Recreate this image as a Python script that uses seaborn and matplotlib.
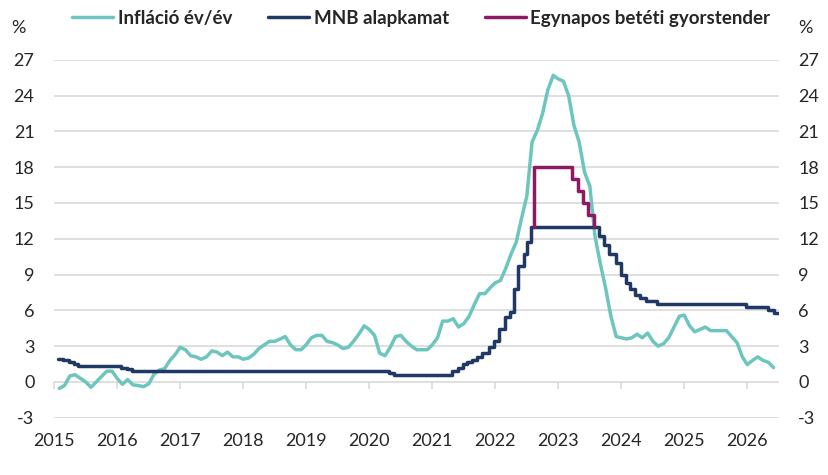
"""Hungarian inflation vs. MNB policy rates, 2015-2026."""

import matplotlib

matplotlib.use("Agg")

import matplotlib.dates as mdates
import matplotlib.pyplot as plt
import pandas as pd
import seaborn as sns

# Inflation, year on year (%), monthly from Mar 2015 to Jul 2026
inflation = [
    -0.55, -0.3, 0.5, 0.6, 0.3, 0.0, -0.45, 0.0, 0.45, 0.9,           # 2015
    0.9, 0.3, -0.2, 0.2, -0.25, -0.3, -0.4, -0.15, 0.65, 1.0, 1.1, 1.8,  # 2016
    2.3, 2.9, 2.7, 2.2, 2.1, 1.9, 2.1, 2.6, 2.5, 2.2, 2.5, 2.1,       # 2017
    2.1, 1.9, 2.0, 2.3, 2.8, 3.1, 3.4, 3.4, 3.6, 3.8, 3.1, 2.7,       # 2018
    2.7, 3.1, 3.7, 3.9, 3.9, 3.4, 3.3, 3.1, 2.8, 2.9, 3.4, 4.0,       # 2019
    4.7, 4.4, 3.9, 2.4, 2.2, 2.9, 3.8, 3.9, 3.4, 3.0, 2.7, 2.7,       # 2020
    2.7, 3.1, 3.7, 5.1, 5.1, 5.3, 4.6, 4.9, 5.5, 6.5, 7.4, 7.4,       # 2021
    7.9, 8.3, 8.5, 9.5, 10.7, 11.7, 13.7, 15.6, 20.1, 21.1, 22.5, 24.5,  # 2022
    25.7, 25.4, 25.2, 24.0, 21.5, 20.1, 17.6, 16.4, 12.2, 9.9, 7.9, 5.5,  # 2023
    3.8, 3.7, 3.6, 3.7, 4.0, 3.7, 4.1, 3.4, 3.0, 3.2, 3.7, 4.6,       # 2024
    5.5, 5.6, 4.7, 4.2, 4.4, 4.6, 4.3, 4.3, 4.3, 4.3, 3.8, 3.3,       # 2025
    2.1, 1.45, 1.8, 2.1, 1.8, 1.65, 1.2,                              # 2026
]
inflation_months = pd.period_range("2015-03", "2026-07", freq="M")

# MNB base rate (%), decision dates
rate_dates = [
    "2015-03-24", "2015-04-21", "2015-05-26", "2015-06-23", "2015-07-21",
    "2016-03-22", "2016-04-26", "2016-05-24",
    "2020-06-23", "2020-07-21",
    "2021-06-22", "2021-07-27", "2021-08-24", "2021-09-21", "2021-10-19",
    "2021-11-16", "2021-12-14",
    "2022-01-25", "2022-02-22", "2022-03-22", "2022-04-26", "2022-05-24",
    "2022-06-21", "2022-07-12", "2022-08-16", "2022-08-30", "2022-09-27",
    "2023-10-24", "2023-11-21", "2023-12-19",
    "2024-01-30", "2024-02-27", "2024-03-26", "2024-04-23", "2024-05-21",
    "2024-06-18", "2024-07-23", "2024-09-24",
    "2026-02-24", "2026-06-30", "2026-08-05",
]
base_rate = [
    1.95, 1.80, 1.65, 1.50, 1.35,
    1.20, 1.05, 0.90,
    0.75, 0.60,
    0.90, 1.20, 1.50, 1.65, 1.80,
    2.10, 2.40,
    2.90, 3.40, 4.40, 5.40, 5.90,
    7.75, 9.75, 10.75, 11.75, 13.00,
    12.25, 11.50, 10.75,
    10.00, 9.00, 8.25, 7.75, 7.25,
    7.00, 6.75, 6.50,
    6.25, 6.00, 5.75,
]
rate_end = "2026-08-31"

# One-day deposit quick tender (%), from its launch to the merge with the base rate
tender_dates = ["2022-10-14", "2022-10-14", "2023-05-23", "2023-06-22",
                "2023-07-25", "2023-08-24", "2023-09-26"]
tender_rate = [13, 18, 17, 16, 15, 14, 13]

labels = ["Infláció év/év", "MNB alapkamat", "Egynapos betéti gyorstender"]
colors = ["#6DC6BE", "#1F3864", "#8B1A62"]
GRID = "#D9D9D9"

sns.set_style("white")
plt.rcParams["font.family"] = ["Lato", "DejaVu Sans"]
plt.rcParams["axes.unicode_minus"] = False

fig = plt.figure(figsize=(8.29, 4.75), dpi=100)
ax = fig.add_axes([0.0651, 0.1206, 0.8745, 0.7535])

sns.lineplot(
    x=inflation_months.to_timestamp(how="end"), y=inflation,
    color=colors[0], lw=2.5, label=labels[0], ax=ax,
)
sns.lineplot(
    x=pd.to_datetime(rate_dates + [rate_end]), y=base_rate + [base_rate[-1]],
    color=colors[1], lw=2.5, drawstyle="steps-post", estimator=None, sort=False,
    label=labels[1], ax=ax,
)
sns.lineplot(
    x=pd.to_datetime(tender_dates), y=tender_rate,
    color=colors[2], lw=2.5, drawstyle="steps-post", estimator=None, sort=False,
    label=labels[2], ax=ax,
)

# Axes: year labels at the bottom, percentage on both sides
ax.set_xlim(pd.Timestamp("2015-03-01"), pd.Timestamp("2026-09-01"))
ax.set_ylim(-3, 27)
ax.set_yticks(range(-3, 28, 3))
ax.xaxis.set_major_locator(mdates.YearLocator(1, month=3, day=1))
ax.xaxis.set_major_formatter(mdates.DateFormatter("%Y"))
ax.set_xlabel("")
ax.set_ylabel("")
ax.tick_params(axis="x", length=0, pad=11, labelsize=13)
ax.tick_params(axis="y", length=0, pad=14, labelsize=13, labelright=True)

ax.grid(axis="y", color=GRID, lw=1.2)
ax.grid(axis="x", visible=False)
ax.set_axisbelow(True)
for spine in ax.spines.values():
    spine.set_visible(False)

# Small year tick marks hanging from the zero line
zero_axis = ax.secondary_xaxis(0.1)
zero_axis.xaxis.set_major_locator(mdates.YearLocator(1, month=3, day=1))
zero_axis.tick_params(length=5, width=1.2, color=GRID, labelbottom=False)
zero_axis.spines["bottom"].set_visible(False)

fig.text(0.022, 0.941, "%", ha="center", va="center", fontsize=13)
fig.text(0.971, 0.941, "%", ha="center", va="center", fontsize=13)

handles, names = ax.get_legend_handles_labels()
ax.legend_.remove()
fig.legend(
    handles, names, loc="center", bbox_to_anchor=(0.508, 0.962), ncol=3,
    frameon=False, handlelength=2.2, handletextpad=0.25, columnspacing=1.9,
    prop={"weight": "bold", "size": 13.5},
)

fig.savefig("out.png", dpi=100)
